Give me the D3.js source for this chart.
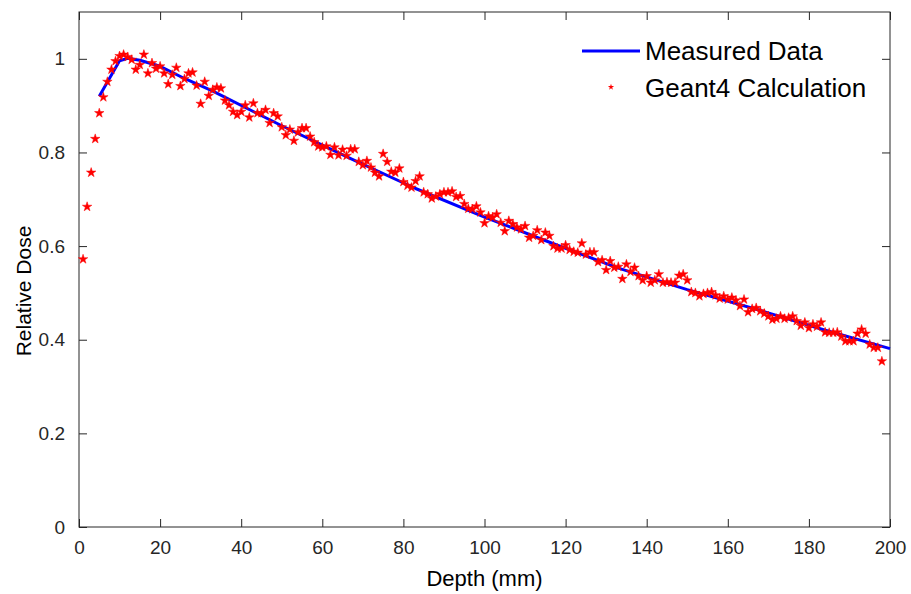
<!DOCTYPE html>
<html>
<head>
<meta charset="utf-8">
<script src="https://cdn.jsdelivr.net/npm/d3@7"></script>
<style>
  body { margin: 0; background: #fff; }
  svg { font-family: "Liberation Sans", Arial, sans-serif; }
</style>
</head>
<body>
<svg id="chart" width="911" height="594"></svg>
<script>
// measured curve (depth mm, relative dose)
var measuredDepth = [5, 10, 12, 15, 20, 26, 33, 50, 67, 83, 100, 117, 133, 150, 167, 183, 200];
var measuredDose  = [0.920, 0.996, 1.001, 0.997, 0.984, 0.958, 0.931, 0.857, 0.787, 0.723, 0.662, 0.605, 0.553, 0.507, 0.465, 0.423, 0.381];

// geant4 points, one per mm from 1 to 198
var geantDose = [
  0.572, 0.684, 0.757, 0.829, 0.884, 0.918, 0.951, 0.977, 0.995, 1.006,
  1.009, 1.004, 0.998, 0.977, 0.987, 1.009, 0.969, 0.991, 0.979, 0.984,
  0.969, 0.946, 0.966, 0.981, 0.942, 0.957, 0.969, 0.971, 0.943, 0.904,
  0.951, 0.921, 0.934, 0.939, 0.937, 0.911, 0.901, 0.887, 0.880, 0.887,
  0.901, 0.875, 0.905, 0.884, 0.884, 0.891, 0.863, 0.884, 0.877, 0.854,
  0.837, 0.849, 0.825, 0.843, 0.852, 0.852, 0.834, 0.822, 0.813, 0.811,
  0.813, 0.795, 0.811, 0.794, 0.806, 0.793, 0.807, 0.807, 0.780, 0.773,
  0.782, 0.768, 0.757, 0.749, 0.797, 0.780, 0.759, 0.757, 0.766, 0.737,
  0.729, 0.725, 0.739, 0.749, 0.715, 0.711, 0.702, 0.706, 0.711, 0.715,
  0.715, 0.717, 0.705, 0.707, 0.690, 0.680, 0.679, 0.685, 0.672, 0.649,
  0.664, 0.661, 0.668, 0.650, 0.632, 0.654, 0.647, 0.640, 0.636, 0.643,
  0.618, 0.622, 0.634, 0.613, 0.629, 0.622, 0.600, 0.595, 0.595, 0.602,
  0.592, 0.588, 0.586, 0.606, 0.582, 0.587, 0.587, 0.566, 0.570, 0.549,
  0.568, 0.554, 0.556, 0.530, 0.561, 0.545, 0.554, 0.536, 0.527, 0.536,
  0.522, 0.527, 0.540, 0.522, 0.523, 0.522, 0.522, 0.537, 0.540, 0.527,
  0.502, 0.500, 0.493, 0.498, 0.500, 0.502, 0.495, 0.488, 0.493, 0.486,
  0.490, 0.484, 0.472, 0.486, 0.459, 0.466, 0.468, 0.461, 0.456, 0.450,
  0.443, 0.445, 0.450, 0.445, 0.447, 0.450, 0.440, 0.430, 0.437, 0.425,
  0.433, 0.428, 0.437, 0.416, 0.415, 0.415, 0.416, 0.407, 0.397, 0.397,
  0.397, 0.413, 0.422, 0.413, 0.390, 0.383, 0.383, 0.354
];
var geantDepth = geantDose.map(function(d, i){ return i + 1; });

var xTicks = [0, 20, 40, 60, 80, 100, 120, 140, 160, 180, 200];
var yTicks = [0, 0.2, 0.4, 0.6, 0.8, 1];
var seriesNames = ["Measured Data", "Geant4 Calculation"];

var svg = d3.select("#chart");
var plotL = 79, plotR = 890, plotT = 12, plotB = 527;
var axisColor = "#262626";

var x = d3.scaleLinear().domain([0, 200]).range([plotL, plotR]);
var y = d3.scaleLinear().domain([0, 1.1]).range([plotB, plotT]);

// axes, matlab style: ticks inward, box on
function styleAxis(g, hideText){
  g.select(".domain").remove();
  g.selectAll("line").attr("stroke", axisColor).attr("stroke-width", 1);
  g.selectAll("text").attr("fill", axisColor).style("font-size", "19px");
  if(hideText) g.selectAll("text").remove();
}

svg.append("g").attr("transform", "translate(0," + plotB + ")")
  .call(d3.axisBottom(x).tickValues(xTicks).tickSizeInner(-8).tickSizeOuter(0).tickPadding(14))
  .call(function(g){ styleAxis(g, false); });
svg.append("g").attr("transform", "translate(0," + plotT + ")")
  .call(d3.axisTop(x).tickValues(xTicks).tickSizeInner(-8).tickSizeOuter(0))
  .call(function(g){ styleAxis(g, true); });
svg.append("g").attr("transform", "translate(" + plotL + ",0)")
  .call(d3.axisLeft(y).tickValues(yTicks).tickSizeInner(-8).tickSizeOuter(0).tickPadding(14)
    .tickFormat(function(d){ return d3.format("~g")(d); }))
  .call(function(g){ styleAxis(g, false); });
svg.append("g").attr("transform", "translate(" + plotR + ",0)")
  .call(d3.axisRight(y).tickValues(yTicks).tickSizeInner(-8).tickSizeOuter(0))
  .call(function(g){ styleAxis(g, true); });

svg.append("rect")
  .attr("x", plotL).attr("y", plotT)
  .attr("width", plotR - plotL).attr("height", plotB - plotT)
  .attr("fill", "none").attr("stroke", axisColor).attr("stroke-width", 1);

// axis labels
svg.append("text")
  .attr("x", (plotL + plotR) / 2).attr("y", 586)
  .attr("text-anchor", "middle").attr("fill", "#000")
  .style("font-size", "22px")
  .text("Depth (mm)");
svg.append("text")
  .attr("transform", "translate(31,291) rotate(-90)")
  .attr("text-anchor", "middle").attr("fill", "#000")
  .style("font-size", "21px")
  .text("Relative Dose");

// measured line
var line = d3.line()
  .x(function(d, i){ return x(measuredDepth[i]); })
  .y(function(d){ return y(d); });
svg.append("path")
  .datum(measuredDose)
  .attr("d", line)
  .attr("fill", "none")
  .attr("stroke", "#0000ff")
  .attr("stroke-width", 3)
  .attr("stroke-linejoin", "round");

// geant4 stars
var star = d3.symbol().type(d3.symbolStar).size(28);
svg.append("g").selectAll("path")
  .data(geantDose)
  .enter().append("path")
  .attr("d", star)
  .attr("transform", function(d, i){ return "translate(" + x(geantDepth[i]) + "," + y(d) + ")"; })
  .attr("fill", "#ff0000")
  .attr("stroke", "#ff0000")
  .attr("stroke-width", 0.5);

// legend
var legend = svg.append("g");
legend.append("line")
  .attr("x1", 582).attr("x2", 640).attr("y1", 51).attr("y2", 51)
  .attr("stroke", "#0000ff").attr("stroke-width", 3);
legend.append("path")
  .attr("d", d3.symbol().type(d3.symbolStar).size(12))
  .attr("transform", "translate(611,87)")
  .attr("fill", "#ff0000");
legend.selectAll("text")
  .data(seriesNames)
  .enter().append("text")
  .attr("x", 645)
  .attr("y", function(d, i){ return 51 + i * 37; })
  .attr("dy", "0.35em")
  .attr("fill", "#000")
  .style("font-size", "26px")
  .text(function(d){ return d; });
</script>
</body>
</html>
